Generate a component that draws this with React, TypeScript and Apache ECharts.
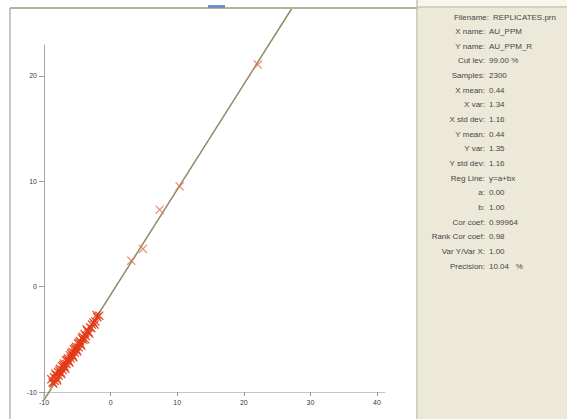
import React, { useEffect, useRef } from "react";
import * as echarts from "echarts";

// ---- data ----
const xTicks = [-10, 0, 10, 20, 30, 40];
const yTicks = [-10, 0, 10, 20];

// dense cluster of replicate pairs [x, y]
const clusterPoints: number[][] = [
  [-8.7, -9.1], [-8.5, -8.6], [-8.4, -8.95], [-8.2, -8.4], [-8.1, -8.7],
  [-7.9, -8.1], [-7.8, -8.45], [-7.6, -7.8], [-7.5, -8.15], [-7.3, -7.55],
  [-7.2, -7.9], [-7.0, -7.3], [-6.9, -7.6], [-6.7, -7.0], [-6.6, -7.35],
  [-6.4, -6.8], [-6.3, -7.05], [-6.1, -6.5], [-6.0, -6.8], [-5.8, -6.2],
  [-5.7, -6.55], [-5.5, -5.95], [-5.4, -6.25], [-5.2, -5.7], [-5.1, -6.0],
  [-4.9, -5.4], [-4.8, -5.75], [-4.6, -5.15], [-4.5, -5.45], [-4.3, -4.9],
  [-4.1, -5.05], [-3.9, -4.5], [-3.7, -4.7], [-3.5, -4.2], [-3.3, -4.35],
  [-3.1, -3.85], [-2.9, -3.95], [-2.6, -3.4], [-2.3, -3.3], [-2.0, -2.9],
  [-1.7, -2.75],
  // second row, widening the band
  [-8.9, -8.8], [-8.6, -9.2], [-8.3, -8.25], [-8.0, -8.9], [-7.7, -7.95],
  [-7.4, -8.3], [-7.1, -7.45], [-6.8, -7.8], [-6.5, -6.95], [-6.2, -7.2],
  [-5.9, -6.35], [-5.6, -6.7], [-5.3, -5.85], [-5.0, -6.15], [-4.7, -5.3],
  [-4.4, -5.6], [-4.2, -4.75], [-3.8, -5.0], [-3.6, -4.05], [-3.2, -4.45],
  [-2.8, -3.6], [-2.4, -3.6], [-2.1, -2.7],
];

// isolated high-grade pairs
const outlierPoints: number[][] = [
  [3.1, 2.47], [4.85, 3.58], [7.36, 7.31], [10.36, 9.52], [22.1, 21.08],
];

// regression line endpoints (y = a + b x as drawn)
const regLine: number[][] = [[-10, -10.76], [27.3, 26.5]];
// y axis extension below the x axis
const yAxisStub: number[][] = [[-10, -10], [-10, -10.76]];

const statLabels = [
  "Filename:", "X name:", "Y name:", "Cut lev:", "Samples:", "X mean:", "X var:",
  "X std dev:", "Y mean:", "Y var:", "Y std dev:", "Reg Line:", "a:", "b:",
  "Cor coef:", "Rank Cor coef:", "Var Y/Var X:", "Precision:",
];
const statValues = [
  "REPLICATES.prn", "AU_PPM", "AU_PPM_R", "99.00 %", "2300", "0.44", "1.34",
  "1.16", "0.44", "1.35", "1.16", "y=a+bx", "0.00", "1.00",
  "0.99964", "0.98", "1.00", "10.04   %",
];

const XMARK = "path://M0,1L1,0L5,4L9,0L10,1L6,5L10,9L9,10L5,6L1,10L0,9L4,5Z";

export default function App() {
  const ref = useRef<HTMLDivElement>(null);

  useEffect(() => {
    if (!ref.current) return;
    const chart = echarts.init(ref.current, null, { renderer: "svg" });

    const font = '8px "Liberation Sans", Arial, sans-serif';
    const statGraphics: any[] = [];
    statLabels.forEach((lab, i) => {
      const y = 17 + i * 14.65;
      const lx = i === 0 ? 489 : 485;
      statGraphics.push({
        type: "text",
        x: lx,
        y,
        z: 10,
        style: { text: lab, fill: "#474747", font, align: "right", verticalAlign: "middle" },
      });
      statGraphics.push({
        type: "text",
        x: lx + 4,
        y,
        z: 10,
        style: { text: statValues[i], fill: "#474747", font, align: "left", verticalAlign: "middle" },
      });
    });

    chart.setOption({
      animation: false,
      backgroundColor: "#ffffff",
      grid: { left: 44, top: 45, right: 182, bottom: 27, containLabel: false },
      xAxis: {
        type: "value",
        min: -10,
        max: 41.2,
        interval: 10,
        splitLine: { show: false },
        axisLine: { show: true, onZero: false, lineStyle: { color: "#c4c4c4", width: 1 } },
        axisTick: { show: true, length: 4, customValues: xTicks, lineStyle: { color: "#9a9a9a" } },
        axisLabel: {
          customValues: xTicks,
          margin: 7,
          color: "#3a3a3a",
          fontSize: 7,
          fontFamily: "Liberation Sans, Arial, sans-serif",
        },
      },
      yAxis: {
        type: "value",
        min: -10,
        max: 22.94,
        interval: 10,
        splitLine: { show: false },
        axisLine: { show: true, onZero: false, lineStyle: { color: "#a8a8a8", width: 1 } },
        axisTick: { show: true, length: 5, customValues: yTicks, lineStyle: { color: "#9a9a9a" } },
        axisLabel: {
          customValues: yTicks,
          margin: 7,
          color: "#3a3a3a",
          fontSize: 7,
          fontFamily: "Liberation Sans, Arial, sans-serif",
        },
      },
      graphic: [
        // left plot frame
        { type: "line", z: 5, shape: { x1: 10, y1: 8, x2: 10, y2: 419 }, style: { stroke: "#b9b7a8", lineWidth: 1.5 } },
        { type: "line", z: 5, shape: { x1: 10, y1: 8, x2: 418, y2: 8 }, style: { stroke: "#b4b29a", lineWidth: 2 } },
        { type: "rect", z: 6, shape: { x: 208, y: 5, width: 17, height: 3 }, style: { fill: "#6f8fc8" } },
        // right stats panel
        { type: "rect", z: 4, shape: { x: 418, y: 0, width: 149, height: 7 }, style: { fill: "#f6f5ee" } },
        { type: "rect", z: 4, shape: { x: 418, y: 7, width: 149, height: 412 }, style: { fill: "#ece9d8" } },
        { type: "line", z: 5, shape: { x1: 418, y1: 7, x2: 567, y2: 7 }, style: { stroke: "#c9c6b4", lineWidth: 1.5 } },
        { type: "line", z: 5, shape: { x1: 417, y1: 0, x2: 417, y2: 419 }, style: { stroke: "#c2c0b2", lineWidth: 1.5 } },
        ...statGraphics,
      ],
      series: [
        {
          type: "line",
          data: yAxisStub,
          clip: false,
          symbol: "none",
          silent: true,
          lineStyle: { color: "#a8a8a8", width: 1 },
        },
        {
          type: "line",
          data: regLine,
          clip: false,
          symbol: "none",
          silent: true,
          z: 3,
          lineStyle: { color: "#8f8a66", width: 1.5 },
        },
        {
          type: "scatter",
          data: clusterPoints,
          symbol: XMARK,
          symbolSize: 9,
          z: 4,
          itemStyle: { color: "#e23a16", opacity: 0.9 },
        },
        {
          type: "scatter",
          data: outlierPoints,
          symbol: XMARK,
          symbolSize: 9,
          z: 4,
          itemStyle: { color: "#e86a4e", opacity: 0.75 },
        },
      ],
    });

    return () => chart.dispose();
  }, []);

  return (
    <div
      ref={ref}
      style={{ position: "absolute", left: 0, top: 0, width: 567, height: 419 }}
    />
  );
}
